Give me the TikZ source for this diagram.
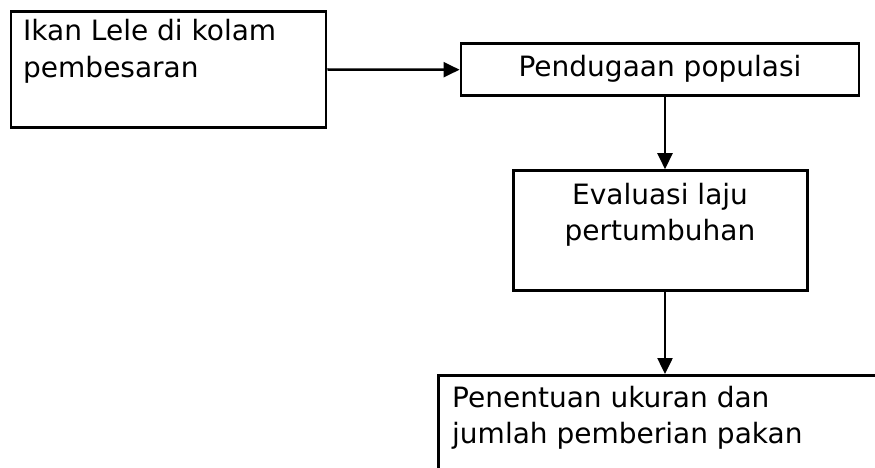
\documentclass[tikz,border=0pt]{standalone}
\usepackage{fontspec}
\setmainfont{DejaVu Sans}
\usetikzlibrary{arrows.meta}
\tikzset{
  box/.style={draw, rectangle, line width=2.9pt, inner sep=0},
  txt/.style={inner sep=0, font=\fontsize{28}{36.5}\selectfont},
  flow/.style={line width=2.5pt, -{Triangle[length=16pt,width=15pt]}}
}

\begin{document}
\begin{tikzpicture}[x=1pt, y=-1pt]
\useasboundingbox (0,0) rectangle (875,468);
\clip (0,0) rectangle (875,468);
\node[box, minimum width=315pt, minimum height=116pt] (ikan) at (168.5,69.5) {};
\node[box, minimum width=398pt, minimum height=52pt] (duga) at (660,69.7) {};
\node[box, minimum width=294.5pt, minimum height=119.5pt] (evaluasi) at (660.5,230.4) {};
\node[box, minimum width=500pt, minimum height=200pt, anchor=north west] (tentu) at (437,374) {};
\coordinate (lajur) at (665,0);
% base anchor sits on the last line
\node[txt, anchor=base west, align=left] (ikanTeks) at (23,77.5) {Ikan Lele di kolam\\pembesaran};
\node[txt, anchor=base] (dugaTeks) at (660,77) {Pendugaan populasi};
\node[txt, anchor=base, align=center] (evaluasiTeks) at (660,240.5) {Evaluasi laju\\pertumbuhan};
\node[txt, anchor=base west, align=left] (tentuTeks) at (452,443.5) {Penentuan ukuran dan\\jumlah pemberian pakan};
\draw[flow] (ikan.east) -- (duga.west);
\draw[flow] (duga.south -| lajur) -- (evaluasi.north -| lajur);
\draw[flow] (evaluasi.south -| lajur) -- (tentu.north -| lajur);
\end{tikzpicture}
\end{document}
